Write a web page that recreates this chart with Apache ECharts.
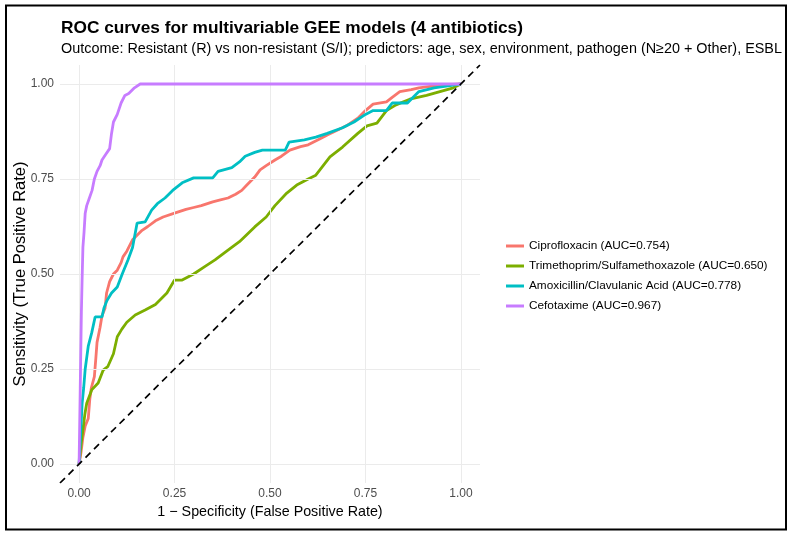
<!DOCTYPE html>
<html>
<head>
<meta charset="utf-8">
<script src="https://cdn.jsdelivr.net/npm/echarts@6/dist/echarts.min.js"></script>
<style>
  html, body { margin: 0; padding: 0; background: #fff; }
  #chart { width: 792px; height: 536px; }
</style>
</head>
<body>
<div id="chart"></div>
<script>
// ROC 曲线数据（从图上读出的近似点）
const seriesNames = [
  'Ciprofloxacin (AUC=0.754)',
  'Trimethoprim/Sulfamethoxazole (AUC=0.650)',
  'Amoxicillin/Clavulanic Acid (AUC=0.778)',
  'Cefotaxime (AUC=0.967)'
]
const seriesColors = ['#F8766D', '#7CAE00', '#00BFC4', '#C77CFF']

const ciproFpr = [0, 0.005, 0.01, 0.016, 0.024, 0.028, 0.032, 0.04, 0.044, 0.047, 0.055, 0.06, 0.068, 0.072, 0.08, 0.09, 0.1, 0.11, 0.115, 0.125, 0.14, 0.155, 0.165, 0.18, 0.2, 0.22, 0.25, 0.28, 0.3, 0.32, 0.35, 0.37, 0.39, 0.41, 0.426, 0.44, 0.46, 0.474, 0.49, 0.513, 0.53, 0.552, 0.58, 0.6, 0.63, 0.65, 0.68, 0.7, 0.73, 0.75, 0.77, 0.805, 0.82, 0.84, 0.87, 0.89, 0.945, 1]
const ciproTpr = [0, 0.03, 0.07, 0.1, 0.12, 0.17, 0.2, 0.23, 0.28, 0.32, 0.36, 0.39, 0.41, 0.45, 0.48, 0.5, 0.51, 0.53, 0.545, 0.56, 0.59, 0.605, 0.615, 0.625, 0.64, 0.65, 0.66, 0.67, 0.675, 0.68, 0.69, 0.695, 0.7, 0.71, 0.72, 0.735, 0.755, 0.774, 0.785, 0.8, 0.81, 0.826, 0.835, 0.84, 0.855, 0.866, 0.88, 0.89, 0.91, 0.93, 0.947, 0.953, 0.965, 0.98, 0.985, 0.99, 0.997, 1]

const trimFpr = [0, 0.005, 0.01, 0.015, 0.02, 0.033, 0.05, 0.063, 0.075, 0.09, 0.1, 0.112, 0.125, 0.147, 0.173, 0.2, 0.215, 0.23, 0.25, 0.27, 0.3, 0.33, 0.356, 0.39, 0.42, 0.46, 0.49, 0.513, 0.544, 0.57, 0.6, 0.62, 0.657, 0.69, 0.73, 0.754, 0.78, 0.805, 0.83, 0.866, 0.91, 0.945, 0.98, 1]
const trimTpr = [0, 0.05, 0.09, 0.13, 0.16, 0.195, 0.213, 0.247, 0.256, 0.29, 0.335, 0.355, 0.373, 0.392, 0.405, 0.42, 0.435, 0.45, 0.484, 0.484, 0.5, 0.52, 0.537, 0.563, 0.585, 0.624, 0.65, 0.68, 0.713, 0.734, 0.75, 0.76, 0.808, 0.834, 0.87, 0.89, 0.897, 0.93, 0.945, 0.96, 0.97, 0.98, 0.99, 1]

const amoxFpr = [0, 0.004, 0.008, 0.012, 0.016, 0.02, 0.024, 0.033, 0.042, 0.06, 0.065, 0.073, 0.085, 0.1, 0.113, 0.128, 0.14, 0.152, 0.173, 0.19, 0.205, 0.225, 0.245, 0.27, 0.3, 0.35, 0.364, 0.4, 0.42, 0.435, 0.46, 0.48, 0.54, 0.55, 0.59, 0.62, 0.65, 0.69, 0.72, 0.75, 0.77, 0.805, 0.82, 0.86, 0.875, 0.89, 0.93, 0.98, 1]
const amoxTpr = [0, 0.08, 0.16, 0.2, 0.25, 0.28, 0.31, 0.345, 0.387, 0.387, 0.41, 0.43, 0.45, 0.466, 0.5, 0.537, 0.57, 0.634, 0.637, 0.668, 0.685, 0.7, 0.72, 0.74, 0.753, 0.753, 0.77, 0.78, 0.795, 0.81, 0.82, 0.826, 0.826, 0.847, 0.853, 0.86, 0.87, 0.885, 0.9, 0.92, 0.93, 0.93, 0.95, 0.95, 0.965, 0.98, 0.99, 0.997, 1]

const cefoFpr = [0, 0.003, 0.006, 0.008, 0.01, 0.013, 0.016, 0.02, 0.027, 0.034, 0.04, 0.047, 0.055, 0.06, 0.07, 0.08, 0.085, 0.09, 0.1, 0.11, 0.12, 0.13, 0.145, 0.16, 1]
const cefoTpr = [0, 0.2, 0.4, 0.49, 0.57, 0.61, 0.66, 0.68, 0.7, 0.72, 0.75, 0.77, 0.785, 0.8, 0.815, 0.83, 0.87, 0.9, 0.92, 0.95, 0.97, 0.975, 0.99, 1, 1]

const tickValues = [0, 0.25, 0.5, 0.75, 1]
const refLine = [-0.05, 1.05]

const fpr = [ciproFpr, trimFpr, amoxFpr, cefoFpr]
const tpr = [ciproTpr, trimTpr, amoxTpr, cefoTpr]

const FONT = '"Liberation Sans", Arial, sans-serif'
const myChart = echarts.init(document.getElementById('chart'))

const curveSeries = seriesNames.map((name, i) => ({
  name: name,
  type: 'line',
  data: fpr[i].map((x, j) => [x, tpr[i][j]]),
  showSymbol: false,
  symbol: 'none',
  lineStyle: { color: seriesColors[i], width: 2.8 },
  itemStyle: { color: seriesColors[i] },
  z: 3 + i
}))

// 网格线用 markLine 画（坐标轴范围有 5% 扩展）
const gridSeries = {
  type: 'line',
  data: [],
  silent: true,
  markLine: {
    symbol: 'none',
    silent: true,
    label: { show: false },
    lineStyle: { color: '#EBEBEB', width: 1, type: 'solid' },
    data: tickValues.map(v => ({ xAxis: v })).concat(tickValues.map(v => ({ yAxis: v })))
  },
  z: 1
}

const diagSeries = {
  type: 'line',
  data: refLine.map(v => [v, v]),
  symbol: 'none',
  silent: true,
  lineStyle: { color: '#000', width: 1.7, type: [7, 5] },
  z: 10
}

myChart.setOption({
  backgroundColor: '#fff',
  animation: false,
  title: [
    {
      text: 'ROC curves for multivariable GEE models (4 antibiotics)',
      left: 56, top: 15,
      textStyle: { fontFamily: FONT, fontSize: 17.3, fontWeight: 'bold', color: '#000' }
    },
    {
      text: 'Outcome: Resistant (R) vs non-resistant (S/I); predictors: age, sex, environment, pathogen (N≥20 + Other), ESBL',
      left: 56, top: 37,
      textStyle: { fontFamily: FONT, fontSize: 14.4, fontWeight: 'normal', color: '#000' }
    }
  ],
  legend: {
    data: seriesNames,
    orient: 'vertical',
    left: 501, top: 235,
    itemWidth: 18, itemHeight: 3,
    itemGap: 8,
    icon: 'rect',
    textStyle: { fontFamily: FONT, fontSize: 11.8, color: '#000' }
  },
  grid: { left: 60, right: 312, top: 65, bottom: 53, containLabel: false, outerBoundsMode: 'none' },
  xAxis: {
    type: 'value',
    min: -0.05, max: 1.05,
    name: '1 − Specificity (False Positive Rate)',
    nameLocation: 'middle',
    nameGap: 21,
    nameTextStyle: { fontFamily: FONT, fontSize: 14.3, color: '#000' },
    axisLine: { show: false },
    axisTick: { show: false },
    splitLine: { show: false },
    axisLabel: {
      customValues: tickValues,
      formatter: v => v.toFixed(2),
      margin: 5,
      fontFamily: FONT, fontSize: 12, color: '#4D4D4D'
    }
  },
  yAxis: {
    type: 'value',
    min: -0.05, max: 1.05,
    axisLine: { show: false },
    axisTick: { show: false },
    splitLine: { show: false },
    axisLabel: {
      customValues: tickValues,
      formatter: v => v.toFixed(2),
      margin: 6,
      fontFamily: FONT, fontSize: 12, color: '#4D4D4D'
    }
  },
  graphic: [
    {
      type: 'rect',
      shape: { x: 6, y: 5.5, width: 780, height: 524 },
      style: { fill: 'none', stroke: '#000', lineWidth: 2 },
      silent: true
    },
    {
      // y 轴标题
      type: 'text',
      x: 20, y: 274,
      rotation: Math.PI / 2,
      style: {
        text: 'Sensitivity (True Positive Rate)',
        fontFamily: FONT, fontSize: 16.5, fill: '#000',
        textAlign: 'center', textVerticalAlign: 'middle'
      },
      silent: true
    }
  ],
  series: [gridSeries].concat(curveSeries).concat([diagSeries])
})
</script>
</body>
</html>
